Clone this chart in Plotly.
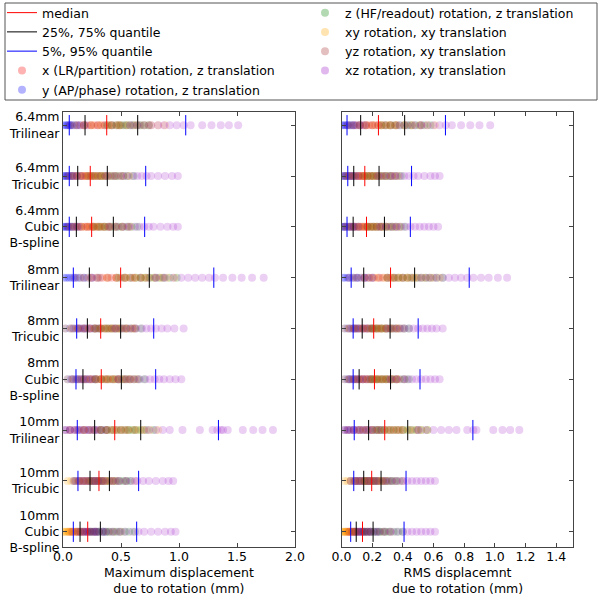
import plotly.graph_objects as go

W, H = 600, 595

row_labels = ["6.4mm<br>Trilinear", "6.4mm<br>Tricubic", "6.4mm<br>Cubic<br>B-spline",
              "8mm<br>Trilinear", "8mm<br>Tricubic", "8mm<br>Cubic<br>B-spline",
              "10mm<br>Trilinear", "10mm<br>Tricubic", "10mm<br>Cubic<br>B-spline"]

group_names = ["x (LR/partition) rotation, z translation",
               "y (AP/phase) rotation, z translation",
               "z (HF/readout) rotation, z translation",
               "xy rotation, xy translation",
               "yz rotation, xy translation",
               "xz rotation, xy translation"]
group_rgb = ["255,0,0", "0,0,255", "0,128,0", "255,165,0", "165,42,42", "155,20,200"]

# quantiles per row (max displacement, mm)
max_q05 = [0.054, 0.054, 0.054, 0.089, 0.118, 0.112, 0.123, 0.129, 0.089]
max_q25 = [0.190, 0.127, 0.115, 0.227, 0.210, 0.172, 0.273, 0.233, 0.147]
max_med = [0.377, 0.235, 0.247, 0.497, 0.325, 0.330, 0.446, 0.310, 0.213]
max_q75 = [0.644, 0.382, 0.434, 0.744, 0.497, 0.503, 0.670, 0.400, 0.322]
max_q95 = [1.058, 0.713, 0.704, 1.300, 0.782, 0.799, 1.340, 0.652, 0.635]

# quantiles per row (RMS displacement, mm)
rms_q05 = [0.036, 0.041, 0.036, 0.063, 0.076, 0.076, 0.083, 0.080, 0.060]
rms_q25 = [0.125, 0.080, 0.076, 0.145, 0.135, 0.115, 0.177, 0.145, 0.096]
rms_med = [0.241, 0.152, 0.163, 0.320, 0.210, 0.215, 0.282, 0.197, 0.137]
rms_q75 = [0.412, 0.245, 0.280, 0.477, 0.317, 0.320, 0.432, 0.258, 0.206]
rms_q95 = [0.678, 0.457, 0.449, 0.833, 0.500, 0.512, 0.857, 0.421, 0.408]

# samples per group, per row (max displacement)
max_x = [[0.14, 0.18, 0.21, 0.24, 0.27, 0.30, 0.33, 0.36, 0.39, 0.42, 0.46, 0.50],
         [0.09, 0.12, 0.15, 0.17, 0.19, 0.21, 0.23, 0.25, 0.27, 0.30, 0.33, 0.37],
         [0.10, 0.13, 0.16, 0.19, 0.21, 0.23, 0.25, 0.27, 0.29, 0.32, 0.35, 0.39],
         [0.24, 0.29, 0.34, 0.38, 0.42, 0.46, 0.50, 0.54, 0.58, 0.62, 0.67, 0.72],
         [0.14, 0.19, 0.23, 0.27, 0.30, 0.33, 0.36, 0.40, 0.44, 0.49, 0.55, 0.62],
         [0.16, 0.20, 0.24, 0.27, 0.30, 0.33, 0.36, 0.39, 0.43, 0.47, 0.52, 0.58],
         [0.02, 0.06, 0.10, 0.14, 0.18, 0.22, 0.27, 0.32, 0.37, 0.42, 0.47, 0.53],
         [0.14, 0.17, 0.20, 0.23, 0.25, 0.27, 0.29, 0.31, 0.33, 0.36, 0.40, 0.45],
         [0.05, 0.07, 0.09, 0.11, 0.13, 0.15, 0.17, 0.19, 0.21, 0.23, 0.26, 0.29]]
max_y = [[0.00, 0.02, 0.03, 0.04, 0.05, 0.06, 0.07, 0.08, 0.10, 0.12, 0.15, 0.19],
         [0.00, 0.01, 0.02, 0.03, 0.04, 0.05, 0.06, 0.07, 0.08, 0.10, 0.12, 0.15],
         [0.00, 0.01, 0.02, 0.03, 0.04, 0.05, 0.06, 0.07, 0.08, 0.10, 0.12, 0.14],
         [0.01, 0.03, 0.05, 0.07, 0.09, 0.11, 0.13, 0.15, 0.18, 0.21, 0.25, 0.30],
         [0.02, 0.06, 0.09, 0.11, 0.13, 0.15, 0.17, 0.19, 0.21, 0.24, 0.27, 0.31],
         [0.04, 0.07, 0.09, 0.11, 0.12, 0.14, 0.16, 0.18, 0.20, 0.22, 0.25, 0.28],
         [0.02, 0.06, 0.10, 0.13, 0.16, 0.19, 0.22, 0.25, 0.27, 0.30, 0.33, 0.37],
         [0.09, 0.11, 0.13, 0.15, 0.17, 0.19, 0.21, 0.23, 0.25, 0.27, 0.30, 0.33],
         [0.13, 0.15, 0.17, 0.19, 0.21, 0.23, 0.25, 0.27, 0.29, 0.31, 0.34, 0.37]]
max_z = [[0.38, 0.42, 0.46, 0.49, 0.52, 0.55, 0.58, 0.61, 0.64, 0.67, 0.70, 0.74],
         [0.22, 0.26, 0.30, 0.33, 0.36, 0.39, 0.42, 0.45, 0.48, 0.52, 0.56, 0.61],
         [0.26, 0.30, 0.33, 0.36, 0.39, 0.42, 0.45, 0.48, 0.51, 0.55, 0.59, 0.64],
         [0.48, 0.53, 0.58, 0.63, 0.67, 0.71, 0.75, 0.79, 0.83, 0.87, 0.92, 0.98],
         [0.28, 0.32, 0.36, 0.39, 0.42, 0.45, 0.48, 0.51, 0.54, 0.58, 0.62, 0.67],
         [0.28, 0.33, 0.37, 0.41, 0.45, 0.48, 0.51, 0.54, 0.57, 0.61, 0.65, 0.70],
         [0.33, 0.38, 0.42, 0.46, 0.50, 0.54, 0.57, 0.60, 0.63, 0.67, 0.72, 0.78],
         [0.24, 0.28, 0.31, 0.34, 0.37, 0.40, 0.43, 0.46, 0.49, 0.52, 0.55, 0.58],
         [0.24, 0.28, 0.31, 0.34, 0.37, 0.40, 0.43, 0.46, 0.49, 0.53, 0.57, 0.62]]
max_xy = [[0.10, 0.18, 0.25, 0.32, 0.40, 0.48, 0.56, 0.63, 0.70, 0.76, 0.82, 0.88],
          [0.06, 0.10, 0.14, 0.18, 0.22, 0.26, 0.30, 0.34, 0.39, 0.44, 0.50, 0.57],
          [0.06, 0.10, 0.15, 0.19, 0.23, 0.27, 0.31, 0.35, 0.40, 0.45, 0.51, 0.58],
          [0.15, 0.22, 0.30, 0.38, 0.46, 0.54, 0.62, 0.70, 0.78, 0.84, 0.90, 0.96],
          [0.02, 0.07, 0.12, 0.17, 0.22, 0.27, 0.32, 0.37, 0.42, 0.47, 0.53, 0.60],
          [0.04, 0.09, 0.14, 0.19, 0.24, 0.29, 0.34, 0.39, 0.44, 0.49, 0.55, 0.62],
          [0.18, 0.25, 0.32, 0.38, 0.44, 0.50, 0.56, 0.61, 0.65, 0.69, 0.75, 0.82],
          [0.04, 0.07, 0.10, 0.13, 0.16, 0.19, 0.22, 0.25, 0.29, 0.33, 0.37, 0.42],
          [0.00, 0.01, 0.02, 0.03, 0.04, 0.05, 0.06, 0.07, 0.09, 0.11, 0.13, 0.16]]
max_yz = [[0.06, 0.12, 0.18, 0.24, 0.30, 0.36, 0.42, 0.48, 0.54, 0.60, 0.66, 0.74],
          [0.04, 0.08, 0.12, 0.16, 0.20, 0.24, 0.28, 0.32, 0.36, 0.41, 0.46, 0.52],
          [0.04, 0.08, 0.12, 0.16, 0.21, 0.26, 0.31, 0.36, 0.41, 0.46, 0.51, 0.56],
          [0.10, 0.18, 0.25, 0.32, 0.39, 0.46, 0.53, 0.60, 0.67, 0.74, 0.80, 0.86],
          [0.08, 0.13, 0.18, 0.23, 0.28, 0.33, 0.38, 0.42, 0.46, 0.50, 0.55, 0.60],
          [0.08, 0.13, 0.18, 0.23, 0.28, 0.33, 0.38, 0.43, 0.48, 0.53, 0.58, 0.64],
          [0.06, 0.12, 0.18, 0.23, 0.28, 0.33, 0.38, 0.44, 0.50, 0.56, 0.62, 0.70],
          [0.10, 0.14, 0.18, 0.22, 0.26, 0.30, 0.34, 0.38, 0.43, 0.48, 0.54, 0.62],
          [0.08, 0.12, 0.15, 0.18, 0.21, 0.24, 0.27, 0.31, 0.35, 0.39, 0.44, 0.50]]
max_xz = [[0.58, 0.64, 0.70, 0.76, 0.82, 0.87, 0.92, 0.98, 1.04, 1.10, 1.20, 1.28, 1.36, 1.43, 1.51],
          [0.38, 0.44, 0.50, 0.55, 0.60, 0.64, 0.68, 0.72, 0.76, 0.82, 0.88, 0.94, 0.99],
          [0.40, 0.46, 0.52, 0.57, 0.62, 0.66, 0.70, 0.74, 0.78, 0.84, 0.90, 0.95, 0.99],
          [0.80, 0.88, 0.95, 1.02, 1.08, 1.14, 1.20, 1.26, 1.31, 1.38, 1.46, 1.54, 1.63, 1.73],
          [0.45, 0.52, 0.58, 0.63, 0.68, 0.72, 0.76, 0.80, 0.85, 0.90, 0.96, 1.04],
          [0.48, 0.55, 0.61, 0.66, 0.71, 0.75, 0.79, 0.83, 0.87, 0.92, 0.97, 1.02],
          [0.74, 0.80, 0.86, 0.92, 1.03, 1.18, 1.29, 1.33, 1.36, 1.38, 1.42, 1.55, 1.64, 1.72, 1.81],
          [0.28, 0.35, 0.42, 0.48, 0.54, 0.59, 0.64, 0.69, 0.74, 0.80, 0.86, 0.91, 0.95],
          [0.28, 0.35, 0.42, 0.48, 0.54, 0.60, 0.65, 0.70, 0.76, 0.82, 0.88, 0.93, 0.97]]

# samples per group, per row (RMS displacement)
rms_x = [[0.09, 0.12, 0.14, 0.16, 0.18, 0.20, 0.22, 0.24, 0.26, 0.29, 0.32, 0.35],
         [0.05, 0.07, 0.09, 0.11, 0.12, 0.13, 0.14, 0.15, 0.17, 0.19, 0.21, 0.24],
         [0.06, 0.08, 0.10, 0.12, 0.13, 0.15, 0.16, 0.17, 0.19, 0.21, 0.23, 0.26],
         [0.15, 0.18, 0.21, 0.24, 0.27, 0.30, 0.32, 0.34, 0.37, 0.40, 0.43, 0.47],
         [0.09, 0.12, 0.14, 0.16, 0.18, 0.20, 0.22, 0.24, 0.26, 0.29, 0.32, 0.36],
         [0.10, 0.12, 0.14, 0.16, 0.18, 0.20, 0.22, 0.24, 0.27, 0.30, 0.33, 0.36],
         [0.02, 0.05, 0.08, 0.11, 0.14, 0.17, 0.20, 0.23, 0.26, 0.30, 0.34, 0.38],
         [0.09, 0.11, 0.13, 0.15, 0.16, 0.17, 0.19, 0.20, 0.22, 0.24, 0.26, 0.29],
         [0.03, 0.04, 0.05, 0.06, 0.07, 0.08, 0.09, 0.10, 0.12, 0.14, 0.16, 0.19]]
rms_y = [[0.00, 0.01, 0.02, 0.03, 0.04, 0.05, 0.06, 0.07, 0.08, 0.10, 0.12, 0.15],
         [0.00, 0.01, 0.02, 0.03, 0.03, 0.04, 0.05, 0.06, 0.07, 0.08, 0.09, 0.11],
         [0.00, 0.01, 0.02, 0.02, 0.03, 0.04, 0.05, 0.06, 0.07, 0.08, 0.09, 0.11],
         [0.01, 0.02, 0.04, 0.05, 0.07, 0.08, 0.10, 0.11, 0.13, 0.15, 0.17, 0.20],
         [0.02, 0.04, 0.06, 0.07, 0.08, 0.09, 0.10, 0.11, 0.13, 0.15, 0.17, 0.20],
         [0.02, 0.04, 0.05, 0.06, 0.07, 0.08, 0.09, 0.10, 0.12, 0.14, 0.16, 0.19],
         [0.02, 0.04, 0.06, 0.08, 0.10, 0.12, 0.14, 0.16, 0.18, 0.20, 0.23, 0.26],
         [0.06, 0.08, 0.09, 0.10, 0.11, 0.12, 0.13, 0.14, 0.16, 0.18, 0.20, 0.22],
         [0.08, 0.09, 0.10, 0.11, 0.12, 0.13, 0.14, 0.15, 0.17, 0.19, 0.21, 0.24]]
rms_z = [[0.26, 0.29, 0.32, 0.35, 0.38, 0.41, 0.43, 0.45, 0.48, 0.51, 0.54, 0.58],
         [0.15, 0.17, 0.19, 0.21, 0.23, 0.25, 0.27, 0.29, 0.31, 0.33, 0.36, 0.39],
         [0.17, 0.19, 0.21, 0.23, 0.25, 0.27, 0.29, 0.31, 0.33, 0.35, 0.38, 0.41],
         [0.30, 0.34, 0.37, 0.40, 0.43, 0.46, 0.49, 0.52, 0.55, 0.58, 0.62, 0.66],
         [0.19, 0.21, 0.23, 0.25, 0.27, 0.29, 0.31, 0.33, 0.35, 0.38, 0.41, 0.44],
         [0.19, 0.21, 0.23, 0.25, 0.27, 0.29, 0.31, 0.33, 0.35, 0.38, 0.41, 0.44],
         [0.22, 0.25, 0.28, 0.31, 0.34, 0.37, 0.40, 0.43, 0.46, 0.49, 0.52, 0.56],
         [0.15, 0.17, 0.19, 0.21, 0.23, 0.25, 0.27, 0.29, 0.31, 0.33, 0.35, 0.38],
         [0.15, 0.17, 0.19, 0.21, 0.23, 0.25, 0.27, 0.29, 0.31, 0.34, 0.37, 0.40]]
rms_xy = [[0.06, 0.11, 0.16, 0.21, 0.26, 0.31, 0.36, 0.41, 0.46, 0.51, 0.56, 0.61],
          [0.03, 0.05, 0.08, 0.11, 0.14, 0.17, 0.20, 0.23, 0.26, 0.29, 0.33, 0.37],
          [0.03, 0.06, 0.09, 0.12, 0.15, 0.18, 0.21, 0.24, 0.27, 0.30, 0.34, 0.38],
          [0.08, 0.13, 0.18, 0.23, 0.28, 0.33, 0.38, 0.43, 0.48, 0.53, 0.58, 0.64],
          [0.02, 0.05, 0.08, 0.11, 0.14, 0.17, 0.20, 0.23, 0.26, 0.29, 0.33, 0.37],
          [0.02, 0.05, 0.08, 0.11, 0.14, 0.17, 0.20, 0.23, 0.26, 0.29, 0.33, 0.37],
          [0.12, 0.16, 0.20, 0.24, 0.28, 0.32, 0.36, 0.40, 0.44, 0.48, 0.52, 0.56],
          [0.02, 0.04, 0.06, 0.08, 0.10, 0.12, 0.14, 0.16, 0.18, 0.20, 0.23, 0.26],
          [0.00, 0.01, 0.01, 0.02, 0.02, 0.03, 0.04, 0.05, 0.06, 0.07, 0.08, 0.10]]
rms_yz = [[0.04, 0.08, 0.12, 0.16, 0.20, 0.24, 0.28, 0.32, 0.36, 0.41, 0.46, 0.52],
          [0.02, 0.05, 0.08, 0.11, 0.14, 0.17, 0.20, 0.23, 0.26, 0.29, 0.32, 0.35],
          [0.02, 0.05, 0.08, 0.11, 0.14, 0.17, 0.20, 0.23, 0.26, 0.29, 0.32, 0.36],
          [0.05, 0.10, 0.15, 0.20, 0.25, 0.30, 0.35, 0.40, 0.45, 0.50, 0.55, 0.60],
          [0.05, 0.08, 0.11, 0.14, 0.17, 0.20, 0.23, 0.26, 0.29, 0.32, 0.36, 0.40],
          [0.05, 0.08, 0.11, 0.14, 0.17, 0.20, 0.23, 0.26, 0.29, 0.32, 0.36, 0.41],
          [0.04, 0.08, 0.12, 0.16, 0.20, 0.24, 0.28, 0.32, 0.36, 0.40, 0.45, 0.50],
          [0.06, 0.09, 0.12, 0.15, 0.18, 0.21, 0.24, 0.27, 0.30, 0.33, 0.36, 0.40],
          [0.05, 0.07, 0.09, 0.11, 0.13, 0.15, 0.17, 0.19, 0.22, 0.25, 0.28, 0.32]]
rms_xz = [[0.38, 0.43, 0.48, 0.52, 0.56, 0.60, 0.64, 0.68, 0.72, 0.78, 0.84, 0.90, 0.97],
          [0.24, 0.28, 0.32, 0.35, 0.38, 0.41, 0.44, 0.47, 0.50, 0.54, 0.58, 0.61, 0.64],
          [0.25, 0.29, 0.33, 0.36, 0.39, 0.42, 0.45, 0.48, 0.51, 0.54, 0.57, 0.60, 0.63],
          [0.52, 0.57, 0.62, 0.66, 0.70, 0.74, 0.78, 0.82, 0.86, 0.91, 0.96, 1.02, 1.08],
          [0.30, 0.34, 0.38, 0.41, 0.44, 0.47, 0.50, 0.53, 0.56, 0.59, 0.62, 0.66],
          [0.32, 0.36, 0.40, 0.43, 0.46, 0.49, 0.52, 0.55, 0.58, 0.61, 0.64],
          [0.50, 0.55, 0.60, 0.65, 0.70, 0.75, 0.82, 0.86, 0.88, 0.99, 1.05, 1.10, 1.16],
          [0.18, 0.23, 0.28, 0.32, 0.36, 0.40, 0.43, 0.46, 0.49, 0.52, 0.55, 0.58, 0.61],
          [0.18, 0.23, 0.28, 0.32, 0.36, 0.40, 0.43, 0.46, 0.49, 0.52, 0.55, 0.58, 0.61]]

FONT = "DejaVu Sans"
FS = 12.5
HALF = 0.2  # half height of the quantile ticks, in row units


def add_panel(fig, groups, quantiles, xa, ya):
    for gi, rows in enumerate(groups):
        xs, ys = [], []
        for r, vals in enumerate(rows):
            xs += vals
            ys += [r] * len(vals)
        fig.add_trace(go.Scatter(
            x=xs, y=ys, xaxis=xa, yaxis=ya, mode="markers", showlegend=False,
            marker=dict(size=8, color="rgba(%s,0.2)" % group_rgb[gi], line_width=0),
            hoverinfo="skip"))
    for qs, col in quantiles:
        xs, ys = [], []
        for q in qs:
            for r, v in enumerate(q):
                xs += [v, v, None]
                ys += [r - HALF, r + HALF, None]
        fig.add_trace(go.Scatter(x=xs, y=ys, xaxis=xa, yaxis=ya, mode="lines",
                                 line=dict(color=col, width=1), showlegend=False,
                                 hoverinfo="skip"))


fig = go.Figure()
add_panel(fig, [max_x, max_y, max_z, max_xy, max_yz, max_xz],
          [([max_q05, max_q95], "blue"), ([max_q25, max_q75], "black"), ([max_med], "red")],
          "x", "y")
add_panel(fig, [rms_x, rms_y, rms_z, rms_xy, rms_yz, rms_xz],
          [([rms_q05, rms_q95], "blue"), ([rms_q25, rms_q75], "black"), ([rms_med], "red")],
          "x2", "y2")

# legend entries
for name, col in [("median", "red"), ("25%, 75% quantile", "black"), ("5%, 95% quantile", "blue")]:
    fig.add_trace(go.Scatter(x=[None], y=[None], mode="lines", name=name,
                             line=dict(color=col, width=1), legend="legend"))
for gi in range(6):
    fig.add_trace(go.Scatter(x=[None], y=[None], mode="markers", name=group_names[gi],
                             marker=dict(size=8, color="rgba(%s,0.3)" % group_rgb[gi], line_width=0),
                             legend="legend" if gi < 2 else "legend2"))

axis_common = dict(showline=True, linecolor="#444", linewidth=1, mirror="ticks",
                   ticks="inside", ticklen=4, tickcolor="#444", showgrid=False,
                   zeroline=False, automargin=False,
                   tickfont=dict(family=FONT, size=FS, color="black"))
ydom = [1 - 547 / H, 1 - 112 / H]
yrange = [8.3, -0.26]
title_y = 1 - 580 / H

fig.update_layout(
    width=W, height=H, plot_bgcolor="white", paper_bgcolor="white",
    margin=dict(l=0, r=0, t=0, b=0, autoexpand=False),
    font=dict(family=FONT, size=FS, color="black"),
    xaxis=dict(domain=[63 / W, 295 / W], range=[0, 2.0], dtick=0.5, tickformat=".1f",
               ticklabelstandoff=-2, anchor="y", **axis_common),
    yaxis=dict(domain=ydom, range=yrange, tickvals=list(range(9)), ticktext=row_labels,
               anchor="x", **axis_common),
    xaxis2=dict(domain=[341.5 / W, 573 / W], range=[0, 1.51], dtick=0.2, tickformat=".1f",
                ticklabelstandoff=-2, anchor="y2", **axis_common),
    yaxis2=dict(domain=ydom, range=yrange, tickvals=list(range(9)), showticklabels=False,
                anchor="x2", **axis_common),
    legend=dict(x=2 / W, y=1 + 2 / H, xanchor="left", yanchor="top", bgcolor="rgba(0,0,0,0)",
                font=dict(family=FONT, size=FS), tracegroupgap=0),
    legend2=dict(x=305 / W, y=1 + 2 / H, xanchor="left", yanchor="top", bgcolor="rgba(0,0,0,0)",
                 font=dict(family=FONT, size=FS), tracegroupgap=0),
    shapes=[dict(type="rect", xref="paper", yref="paper", x0=5 / W, x1=597 / W,
                 y0=1 - 100 / H, y1=1 - 3 / H, line=dict(color="#555", width=1))],
    annotations=[
        dict(text="Maximum displacement<br>due to rotation (mm)", xref="paper", yref="paper",
             x=179 / W, y=title_y, xanchor="center", yanchor="middle", showarrow=False,
             font=dict(family=FONT, size=FS)),
        dict(text="RMS displacemnt<br>due to rotation (mm)", xref="paper", yref="paper",
             x=457 / W, y=title_y, xanchor="center", yanchor="middle", showarrow=False,
             font=dict(family=FONT, size=FS)),
    ],
)

# the page body has a default 8px margin; drop it so the figure sits at the origin
fig.write_html("out.html", config={"displayModeBar": False},
               post_script="document.body.style.margin='0';")
